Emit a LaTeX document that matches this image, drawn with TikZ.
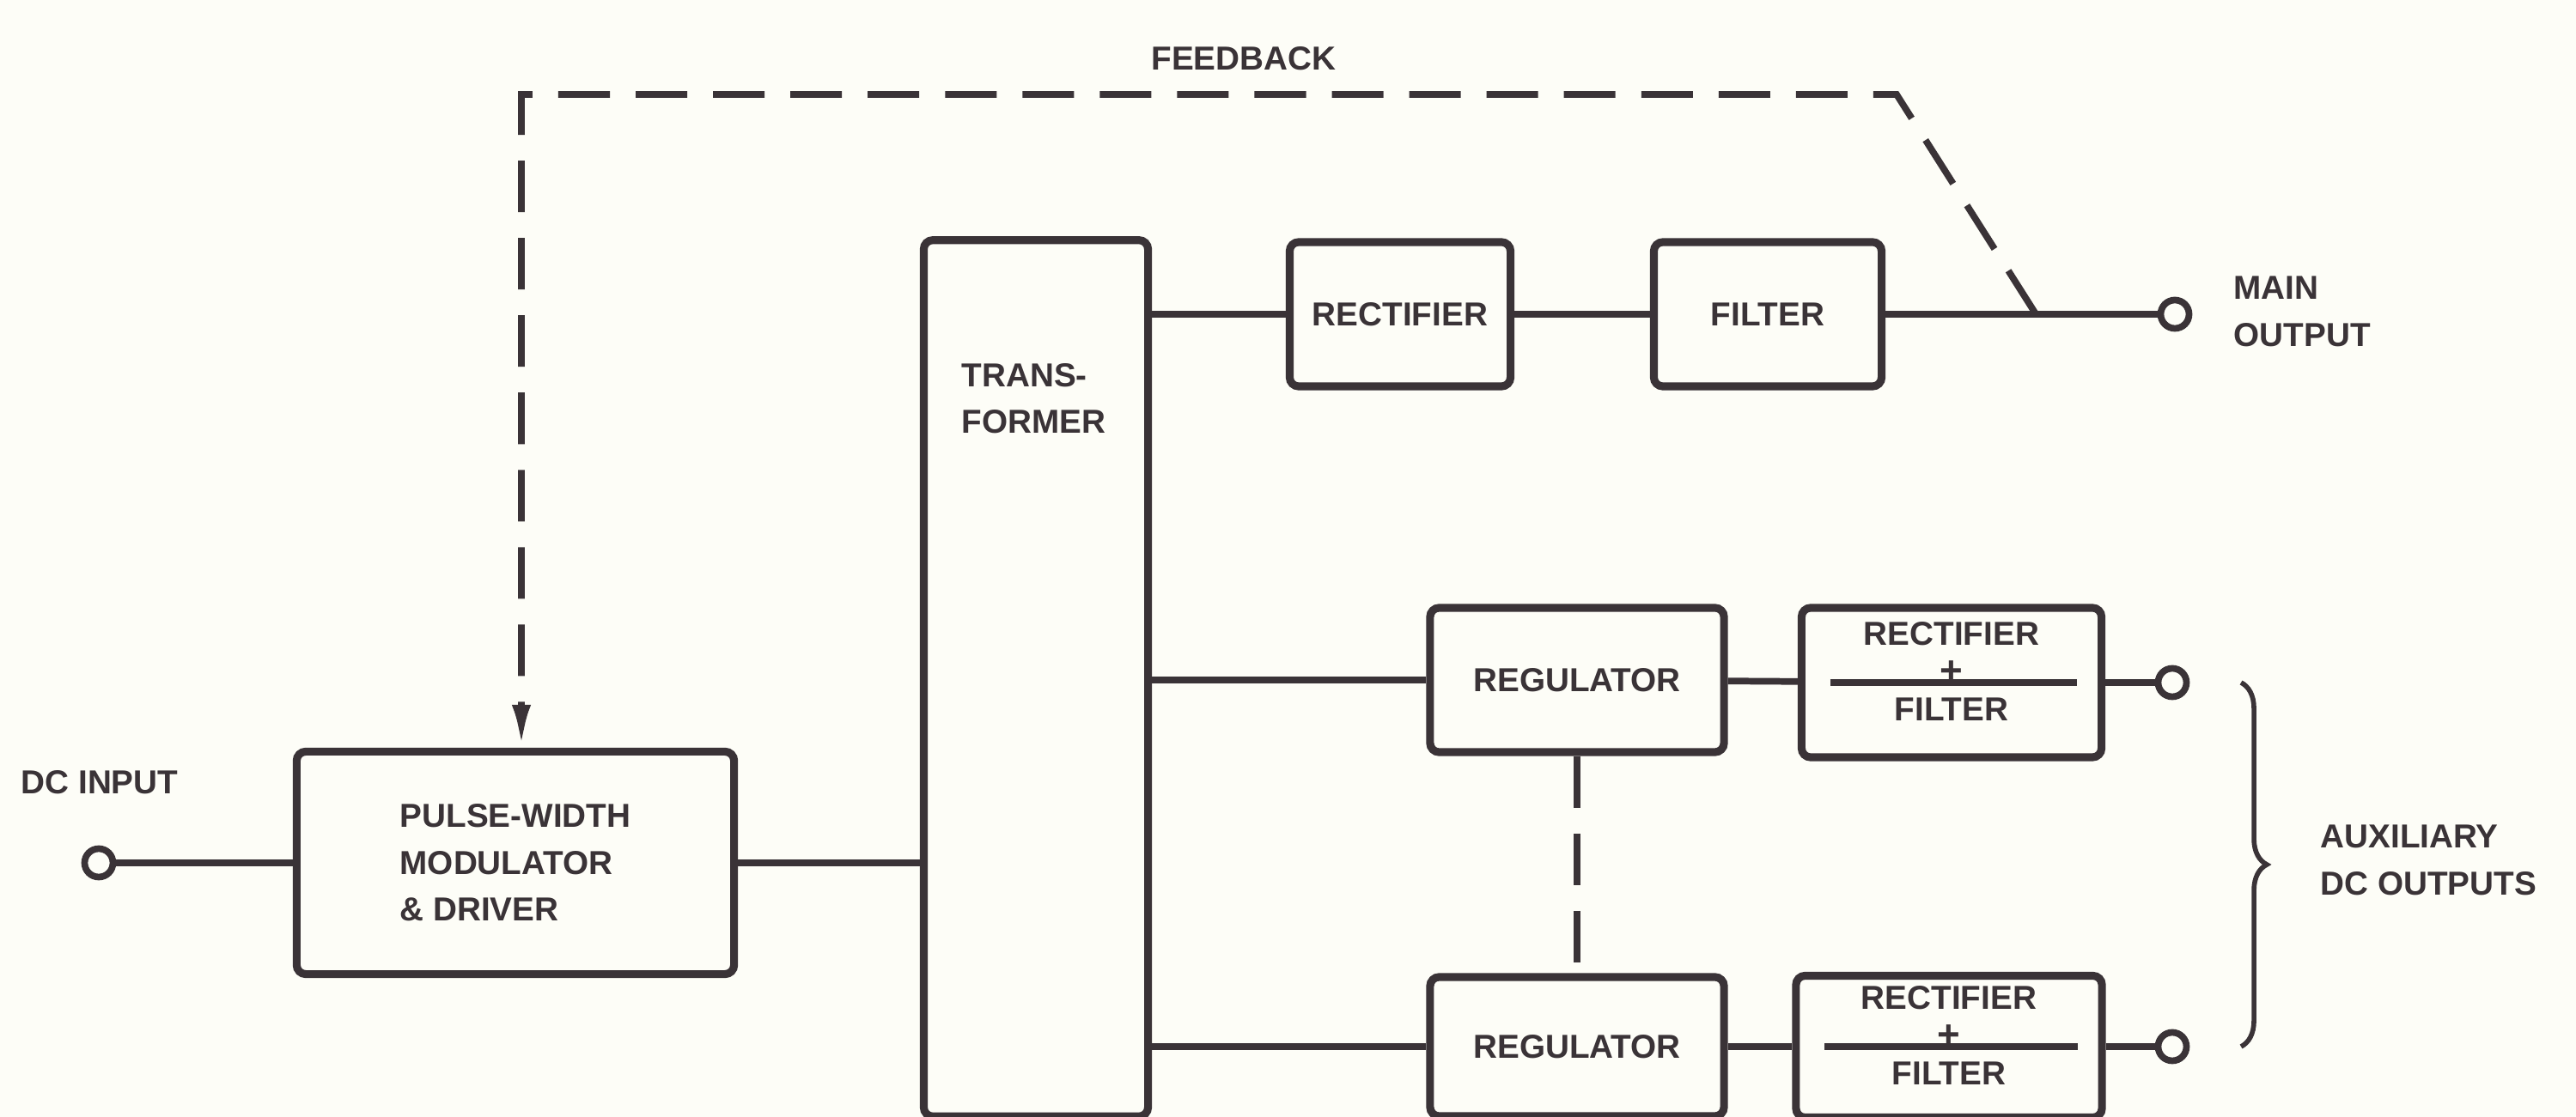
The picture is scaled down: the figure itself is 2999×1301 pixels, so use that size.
\documentclass[tikz,border=0pt]{standalone}
\usepackage{fontspec}
\newfontfamily\diagfont{Liberation Sans}
\usetikzlibrary{positioning,arrows.meta,decorations.pathreplacing}
\definecolor{ink}{HTML}{3A3337}
\definecolor{paper}{HTML}{FDFDF7}
\tikzset{
  every node/.style={font=\diagfont\bfseries\fontsize{11}{15.5}\selectfont, text=ink},
  block/.style={
    rectangle, rounded corners=3pt,
    draw=ink, fill=paper, line width=2.6pt,
    inner sep=0pt, align=center
  },
  wire/.style={draw=ink, line width=2.2pt},
  fb/.style={draw=ink, line width=2.2pt, dash pattern=on 0.6cm off 0.3cm},
  term/.style={
    circle, draw=ink, fill=paper, line width=2.2pt,
    minimum size=0.33cm, inner sep=0pt
  },
  lbl/.style={anchor=west, align=left, inner sep=0pt},
}

\begin{document}
\begin{tikzpicture}[x=0.01cm, y=-0.01cm]
  \useasboundingbox (0,0) rectangle (2999,1301);
  \clip (0,0) rectangle (2999,1301);
  \fill[paper] (0,0) rectangle (2999,1301);
  % input side
  \node[lbl] (inlbl) at (24,911) {DC INPUT};
  \node[term] (dcin) at (115,1005) {};
  \node[block, align=left, minimum width=5.09cm, minimum height=2.59cm] (pwm) at (600,1005) {PULSE-WIDTH\\MODULATOR\\\& DRIVER};
  \node[block, minimum width=2.61cm, minimum height=10.2cm] (xfmr) at (1206,790) {};
  \node[lbl] (xfmrtxt) at (1119,464) {TRANS-\\FORMER};
  % main output
  \node[block, minimum width=2.57cm, minimum height=1.68cm] (rect1) at (1630,366) {RECTIFIER};
  \node[block, minimum width=2.65cm, minimum height=1.68cm] (filt1) at (2058,366) {FILTER};
  \node[term] (mainout) at (2532,366) {};
  \node[lbl] (mainlbl) at (2600,363) {MAIN\\OUTPUT};
  % auxiliary outputs
  \node[block, minimum width=3.42cm, minimum height=1.68cm] (reg1) at (1836,792) {REGULATOR};
  \node[block, minimum width=3.49cm, minimum height=1.74cm] (rf1) at (2272,795) {};
  \node[term] (aux1) at (2529,795) {};
  \node[block, minimum width=3.42cm, minimum height=1.62cm] (reg2) at (1836,1219) {REGULATOR};
  \node[block, minimum width=3.56cm, minimum height=1.65cm] (rf2) at (2269,1219) {};
  \node[term] (aux2) at (2529,1219) {};
  \foreach \n in {rf1,rf2} {
    \draw[wire] ([xshift=0.38cm]\n.west) -- ([xshift=-0.33cm]\n.east);
    \node[align=center, inner sep=0pt] (\n txt) at ([yshift=0.13cm]\n.center) {RECTIFIER\\[-2.5pt]{\fontsize{13}{13}\selectfont+}\\[-3.2pt]FILTER};
  }
  \node[lbl] (auxlbl) at (2701,1002) {AUXILIARY\\DC OUTPUTS};
  \draw[draw=ink, line width=1.6pt, decorate, decoration={brace, amplitude=0.3cm}]
    ([xshift=0.8cm]aux1.center) -- ([xshift=0.8cm]aux2.center);
  % connections
  \draw[wire] (dcin) -- (pwm.west);
  \draw[wire] (pwm.east) -- (pwm.east -| xfmr.west);
  \draw[wire] (rect1.west -| xfmr.east) -- (rect1.west);
  \draw[wire] (rect1) -- (filt1);
  \draw[wire] (filt1) -- (mainout);
  \draw[wire] (reg1.west -| xfmr.east) -- (reg1.west);
  \draw[wire] (reg1) -- (rf1);
  \draw[wire] (rf1) -- (aux1);
  \draw[wire] (reg2.west -| xfmr.east) -- (reg2.west);
  \draw[wire] (reg2) -- (rf2);
  \draw[wire] (rf2) -- (aux2);
  \draw[fb] (reg1.south) -- (reg2.north);
  % feedback loop
  \coordinate (fbtap) at ([xshift=1.75cm]filt1.east);
  \coordinate (fbbend) at (2208,110);
  \coordinate (fbcorner) at (607,110);
  \draw[fb, -{Latex[length=0.5cm,width=0.22cm]}] (fbtap) -- (fbbend) -- (fbcorner) -- (fbcorner |- pwm.north);
  \node (fblbl) at (1448,68) {FEEDBACK};
\end{tikzpicture}
\end{document}
